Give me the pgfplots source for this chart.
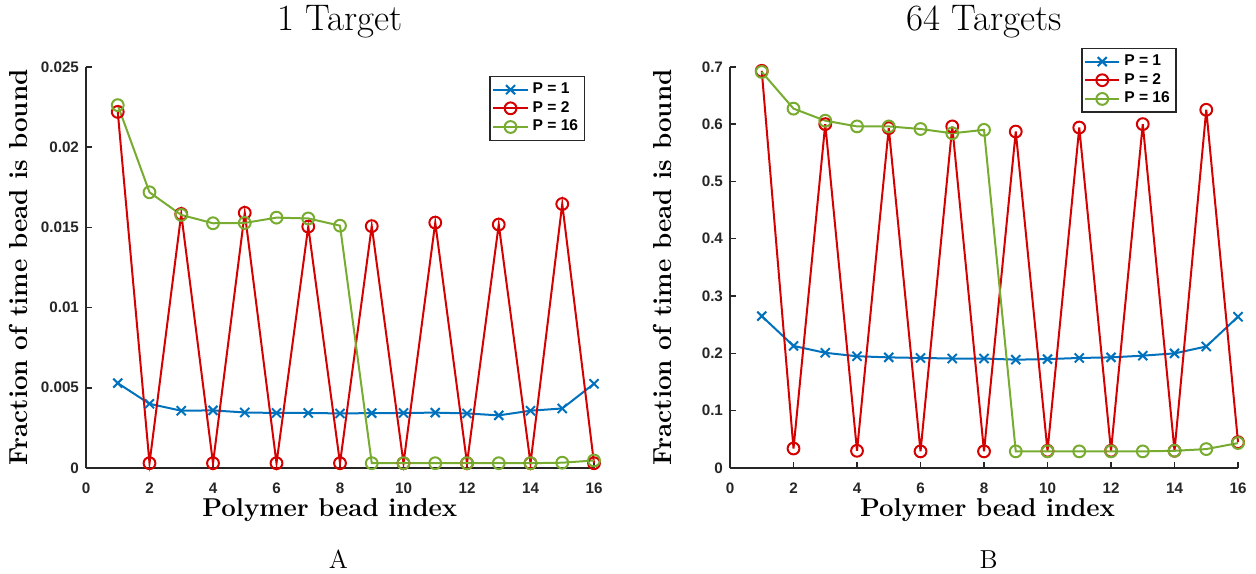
\documentclass[border=0pt]{standalone}
\usepackage{fontspec}
\setsansfont{Liberation Sans}
\usepackage{pgfplots}
\pgfplotsset{compat=1.18}
\definecolor{mblue}{RGB}{0,114,189}
\definecolor{mred}{RGB}{213,0,0}
\definecolor{mgreen}{RGB}{119,172,48}
\definecolor{axgray}{RGB}{38,38,38}
\pgfplotsset{
  every axis title/.style={at={(axis description cs:0.5,1.0897)}, anchor=base, font=\fontsize{18.5}{22}\selectfont},
  myaxis/.style={
    scale only axis, width=254pt, height=200.6pt,
    axis x line*=bottom, axis y line*=left,
    axis line style={axgray, line width=0.75pt},
    tick align=inside, major tick length=3pt,
    every tick/.style={axgray, line width=0.75pt},
    xmin=0, xmax=16, ymin=0,
    scaled y ticks=false, scaled x ticks=false,
    xtick={0,2,4,6,8,10,12,14,16},
    xticklabels={0,2,4,6,8,10,12,14,16},
    ticklabel style={font=\fontsize{7.6}{9}\selectfont\sffamily\bfseries, text=axgray},
    xticklabel style={yshift=-4.0pt},
    clip=false,
    ylabel style={at={(axis description cs:-0.1161,0.5)}, anchor=base, rotate=0, font=\fontsize{13}{15}\selectfont\bfseries},
    xlabel={Polymer bead index},
    ylabel={Fraction of time bead is bound},
    legend cell align=left,
    legend style={anchor=north east, draw=axgray, line width=0.8pt, fill=white,
      font=\fontsize{7.8}{9}\selectfont\sffamily\bfseries, inner sep=1.2pt, row sep=-1.6pt},
    every axis plot/.append style={line width=1pt, mark size=2.95pt},
  }
}
\begin{document}
\begin{tikzpicture}
\useasboundingbox (0,0) rectangle (628pt,286.5pt);
\begin{axis}[myaxis, at={(43pt,52.5pt)}, anchor=south west,
  ymax=0.025,
  ytick={0,0.005,0.01,0.015,0.02,0.025},
  yticklabels={0,0.005,0.01,0.015,0.02,0.025},
  title={1 Target},
  xlabel style={at={(axis description cs:0.480,-0.1211)}, anchor=base, font=\fontsize{12.9}{15}\selectfont\bfseries},
  legend style={at={(0.983,0.978)}},
]
\addplot[mblue, mark=x, mark size=3.2pt] coordinates {
(1,0.00529) (2,0.0040) (3,0.00357) (4,0.00359) (5,0.00346) (6,0.00343) (7,0.00343) (8,0.00340)
(9,0.00342) (10,0.00343) (11,0.00345) (12,0.00340) (13,0.00328) (14,0.00357) (15,0.00371) (16,0.00525)};
\addlegendentry{P = 1}
\addplot[mred, mark=o] coordinates {
(1,0.02219) (2,0.0003) (3,0.01583) (4,0.0003) (5,0.0159) (6,0.0003) (7,0.01504) (8,0.0003)
(9,0.01507) (10,0.0003) (11,0.01529) (12,0.0003) (13,0.01517) (14,0.0003) (15,0.01645) (16,0.0003)};
\addlegendentry{P = 2}
\addplot[mgreen, mark=o] coordinates {
(1,0.02261) (2,0.01718) (3,0.01577) (4,0.01525) (5,0.01527) (6,0.0156) (7,0.01555) (8,0.0151)
(9,0.0003) (10,0.0003) (11,0.0003) (12,0.0003) (13,0.0003) (14,0.0003) (15,0.00033) (16,0.00047)};
\addlegendentry{P = 16}
\end{axis}
\begin{axis}[myaxis, at={(365pt,52.5pt)}, anchor=south west,
  ymax=0.7,
  ytick={0,0.1,0.2,0.3,0.4,0.5,0.6,0.7},
  yticklabels={0,0.1,0.2,0.3,0.4,0.5,0.6,0.7},
  title={64 Targets},
  xlabel style={at={(axis description cs:0.507,-0.1211)}, anchor=base, font=\fontsize{12.9}{15}\selectfont\bfseries},
  legend style={at={(0.88,1.048)}},
]
\addplot[mblue, mark=x, mark size=3.2pt] coordinates {
(1,0.265) (2,0.213) (3,0.201) (4,0.195) (5,0.193) (6,0.192) (7,0.191) (8,0.191)
(9,0.189) (10,0.190) (11,0.192) (12,0.193) (13,0.196) (14,0.200) (15,0.212) (16,0.264)};
\addlegendentry{P = 1}
\addplot[mred, mark=o] coordinates {
(1,0.693) (2,0.034) (3,0.600) (4,0.030) (5,0.593) (6,0.029) (7,0.596) (8,0.029)
(9,0.587) (10,0.030) (11,0.594) (12,0.030) (13,0.600) (14,0.030) (15,0.625) (16,0.045)};
\addlegendentry{P = 2}
\addplot[mgreen, mark=o] coordinates {
(1,0.691) (2,0.627) (3,0.606) (4,0.596) (5,0.596) (6,0.5915) (7,0.584) (8,0.590)
(9,0.029) (10,0.029) (11,0.029) (12,0.029) (13,0.029) (14,0.030) (15,0.033) (16,0.0435)};
\addlegendentry{P = 16}
\end{axis}
\node[anchor=base, font=\fontsize{13}{15}\selectfont] at (169.25pt,2.5pt) {A};
\node[anchor=base, font=\fontsize{13}{15}\selectfont] at (494.25pt,2.5pt) {B};
\end{tikzpicture}
\end{document}
